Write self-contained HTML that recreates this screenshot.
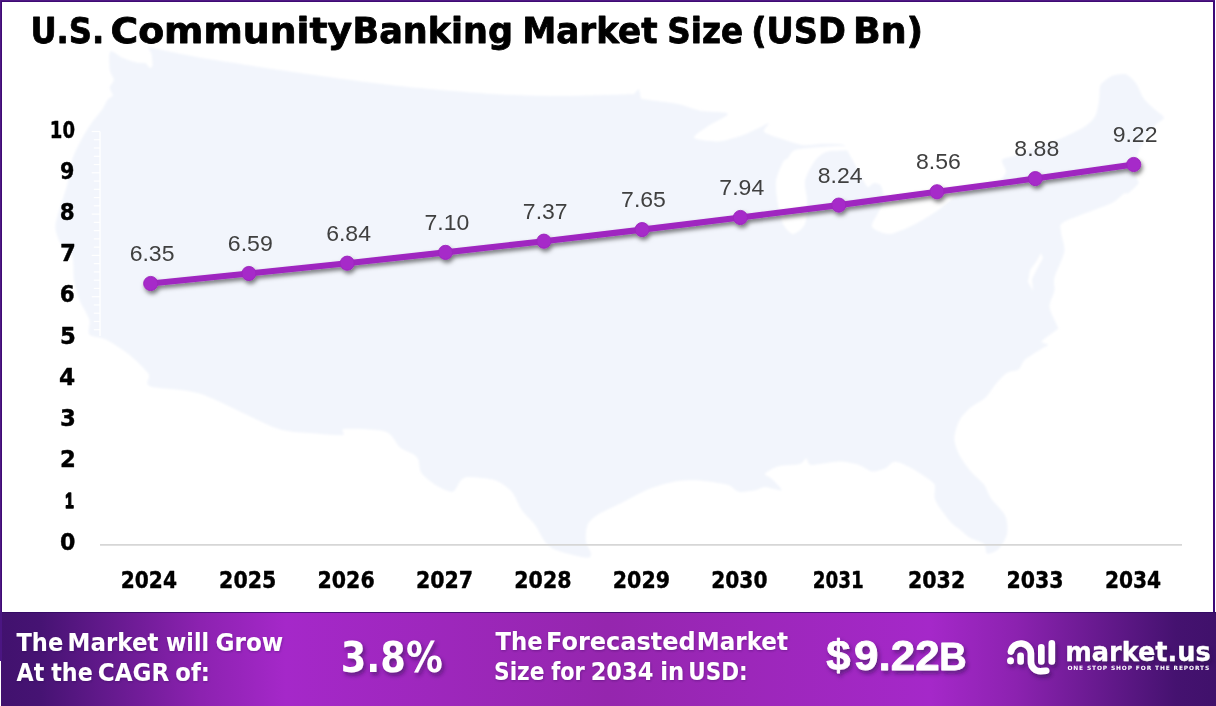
<!DOCTYPE html>
<html lang="en"><head><meta charset="utf-8"><title>U.S. Community Banking Market Size (USD Bn)</title>
<style>
html,body{margin:0;padding:0;background:#fff;}
body{width:1216px;height:706px;overflow:hidden;position:relative;}
svg{display:block;position:absolute;left:0;top:0;}
text{white-space:pre;}
</style></head><body>
<svg width="1216" height="706" viewBox="0 0 1216 706">
<defs>
<linearGradient id="fg" x1="0" y1="0" x2="1" y2="0">
<stop offset="0" stop-color="#41126e"/>
<stop offset="0.033" stop-color="#461373"/>
<stop offset="0.1645" stop-color="#8c22b0"/>
<stop offset="0.235" stop-color="#a528c9"/>
<stop offset="0.5" stop-color="#9526ae"/>
<stop offset="0.765" stop-color="#a528c9"/>
<stop offset="0.8355" stop-color="#8c22b0"/>
<stop offset="0.967" stop-color="#451270"/>
<stop offset="1" stop-color="#40116b"/>
</linearGradient>
<filter id="ls" x="-5%" y="-30%" width="110%" height="180%">
<feDropShadow dx="1.5" dy="3" stdDeviation="2.2" flood-color="#000" flood-opacity="0.5"/>
</filter>
<filter id="ts" x="-10%" y="-30%" width="130%" height="180%">
<feDropShadow dx="2" dy="3" stdDeviation="2.2" flood-color="#2a0a4a" flood-opacity="0.55"/>
</filter>
<filter id="ts2" x="-10%" y="-30%" width="130%" height="180%">
<feDropShadow dx="0.5" dy="1" stdDeviation="0.8" flood-color="#2a0a4a" flood-opacity="0.35"/>
</filter>
<filter id="mb" x="-2%" y="-2%" width="104%" height="104%"><feGaussianBlur stdDeviation="1"/></filter>
</defs>
<rect x="0" y="0" width="1216" height="706" fill="#fff"/>

<g filter="url(#mb)"><path d="M110.3,51.4C112.0,49.8 119.1,56.4 122.7,57.9C126.3,59.4 134.5,62.1 137.6,62.8C140.7,63.5 144.0,62.6 145.6,63.3C147.2,64.0 148.6,67.5 149.5,67.8C150.4,68.1 152.2,67.7 152.5,65.8C152.8,63.9 152.0,56.4 151.5,53.9C151.0,51.4 147.4,48.0 148.5,47.4C149.6,46.8 151.2,47.8 159.4,49.4C167.6,51.0 191.3,56.2 210.0,59.3C228.7,62.4 274.8,69.3 300.0,72.9C325.2,76.5 372.7,83.1 399.0,86.0C425.3,88.9 475.1,93.0 497.0,94.3C518.9,95.6 545.4,96.0 563.0,96.0C580.6,96.0 619.5,94.6 629.0,94.3C638.5,94.0 632.7,94.7 634.0,94.0C635.3,93.3 637.9,88.8 638.8,89.3C639.7,89.8 640.3,96.7 641.0,98.0C641.7,99.3 638.8,98.4 643.8,99.2C648.7,100.0 670.5,102.5 678.0,104.0C685.5,105.5 693.4,109.4 700.0,110.7C706.6,112.0 726.7,111.7 727.8,113.7C728.9,115.7 713.0,122.5 708.5,125.7C704.0,128.9 692.7,135.7 694.0,137.8C695.3,139.9 711.6,141.7 718.0,141.4C724.4,141.1 736.5,137.2 742.0,135.4C747.5,133.6 755.4,129.6 759.0,128.0C762.6,126.4 768.0,122.8 768.7,123.3C769.4,123.8 762.6,129.8 763.9,131.7C765.2,133.6 773.2,136.0 778.3,137.8C783.4,139.6 796.3,144.2 802.4,145.0C808.5,145.8 818.5,143.8 824.0,143.8C829.5,143.8 840.1,143.9 843.3,145.0C846.5,146.1 846.0,148.7 848.0,152.0C850.0,155.3 856.0,166.3 858.0,170.0C860.0,173.7 861.7,177.7 863.0,180.0C864.3,182.3 866.5,186.6 868.0,187.0C869.5,187.4 872.3,183.1 874.0,183.0C875.7,182.9 879.7,183.7 881.0,186.0C882.3,188.3 884.4,196.4 884.0,200.0C883.6,203.6 879.6,209.4 878.0,213.0C876.4,216.6 870.5,224.2 872.0,227.0C873.5,229.8 884.0,234.3 889.5,234.0C895.0,233.7 907.0,228.1 913.3,225.0C919.6,221.9 931.7,214.6 937.0,211.0C942.3,207.4 950.3,200.1 953.0,198.0C955.7,195.9 954.1,196.5 957.0,195.0C959.9,193.5 969.5,188.9 975.0,187.0C980.5,185.1 993.9,183.0 998.0,181.0C1002.1,179.0 1005.5,174.8 1006.0,172.0C1006.5,169.2 1000.9,162.2 1002.0,160.0C1003.1,157.8 1008.9,157.8 1014.5,155.7C1020.1,153.6 1037.9,146.8 1044.2,144.4C1050.5,142.0 1056.6,140.4 1062.0,138.0C1067.4,135.6 1080.6,129.4 1085.0,126.5C1089.4,123.6 1093.3,119.7 1095.2,116.3C1097.1,112.9 1098.3,105.1 1099.0,101.0C1099.7,96.9 1099.3,88.6 1100.3,85.7C1101.3,82.8 1105.0,80.7 1106.7,79.3C1108.4,77.9 1110.5,76.2 1113.0,75.5C1115.5,74.8 1122.7,73.2 1125.8,74.2C1128.9,75.2 1133.6,80.0 1136.0,83.2C1138.4,86.4 1141.3,95.1 1143.7,98.5C1146.1,101.9 1151.2,106.2 1153.9,108.7C1156.6,111.2 1163.7,115.6 1164.0,117.6C1164.3,119.6 1158.5,121.7 1156.4,124.0C1154.3,126.3 1150.4,131.3 1148.0,135.0C1145.6,138.7 1140.5,147.1 1138.6,152.0C1136.7,156.9 1133.5,167.9 1133.5,172.0C1133.5,176.1 1139.3,179.9 1138.6,182.7C1137.9,185.5 1130.4,191.4 1128.4,192.9C1126.4,194.4 1125.9,192.4 1123.4,193.9C1120.9,195.4 1117.9,200.1 1110.0,203.8C1102.1,207.5 1070.8,218.1 1064.3,221.8C1057.8,225.5 1061.0,227.8 1061.0,231.7C1061.0,235.6 1065.2,245.3 1064.3,251.4C1063.4,257.5 1055.7,272.4 1054.4,277.7C1053.1,283.0 1055.1,286.9 1054.4,290.8C1053.7,294.7 1049.1,302.5 1049.5,307.3C1049.9,312.1 1056.8,324.0 1057.7,327.0C1058.6,330.0 1058.5,328.1 1056.3,330.0C1054.1,331.9 1042.6,339.5 1041.5,341.5C1040.4,343.5 1048.3,343.7 1048.1,344.8C1047.9,345.9 1043.0,347.7 1039.9,349.7C1036.8,351.7 1027.9,357.0 1025.0,359.6C1022.1,362.2 1020.9,367.7 1018.5,369.5C1016.1,371.3 1010.1,370.8 1007.0,372.8C1003.9,374.8 998.4,381.0 995.5,384.3C992.6,387.6 988.9,394.3 985.6,397.4C982.3,400.5 974.3,404.2 970.8,407.3C967.3,410.4 961.5,416.3 959.3,420.5C957.1,424.7 954.3,434.0 954.3,438.6C954.3,443.2 957.1,450.6 959.3,455.0C961.5,459.4 967.5,467.5 970.8,471.4C974.1,475.3 981.4,481.1 984.0,484.6C986.6,488.1 987.7,493.6 990.5,497.8C993.3,502.0 1003.1,511.1 1005.3,515.9C1007.5,520.7 1007.9,529.6 1007.0,534.0C1006.1,538.4 1001.4,546.2 998.8,548.8C996.2,551.4 989.2,554.4 987.2,553.7C985.2,553.0 986.4,546.0 984.0,543.8C981.6,541.6 972.4,539.2 969.1,537.2C965.8,535.2 961.7,531.0 959.3,529.0C956.9,527.0 953.6,525.3 951.0,522.4C948.4,519.5 941.7,510.9 939.5,507.6C937.3,504.3 935.3,500.9 934.6,497.8C933.9,494.7 935.9,487.5 934.6,484.6C933.3,481.7 927.8,478.6 924.7,476.4C921.6,474.2 915.5,470.2 911.6,468.2C907.7,466.2 898.6,461.6 895.1,461.6C891.6,461.6 888.4,466.9 885.3,468.2C882.2,469.5 875.6,471.8 872.1,471.4C868.6,471.0 863.3,466.2 858.9,464.9C854.5,463.6 845.5,461.6 839.2,461.6C832.9,461.6 815.7,465.3 811.3,464.9C806.9,464.5 807.8,458.4 806.3,458.3C804.8,458.2 803.7,462.8 800.0,463.9C796.3,465.0 783.0,464.9 778.3,466.2C773.6,467.5 765.9,472.1 765.0,473.8C764.1,475.5 769.5,476.5 771.7,478.7C773.9,480.9 782.5,489.1 781.6,490.2C780.7,491.3 768.5,487.0 765.0,487.0C761.5,487.0 758.8,489.6 755.3,490.2C751.8,490.8 742.3,492.5 738.8,491.8C735.3,491.1 732.5,486.6 729.0,485.3C725.5,484.0 716.9,482.7 712.5,482.0C708.1,481.3 700.8,480.4 696.0,480.3C691.2,480.2 682.4,480.2 676.3,481.3C670.2,482.4 657.0,485.9 650.0,488.6C643.0,491.3 630.7,498.2 623.7,501.7C616.7,505.2 602.2,511.8 597.4,514.9C592.6,518.0 589.0,521.2 587.5,524.7C586.0,528.2 585.5,537.5 585.9,541.2C586.3,544.9 590.4,550.5 590.8,552.7C591.2,554.9 590.8,557.2 589.0,557.6C587.2,558.0 582.2,557.1 577.6,556.0C573.0,554.9 559.0,551.4 554.6,549.4C550.2,547.4 547.3,544.5 544.7,541.2C542.1,537.9 538.0,528.9 534.9,524.7C531.8,520.5 524.8,514.4 521.7,510.0C518.6,505.6 515.3,495.8 511.8,491.8C508.3,487.8 501.1,482.3 495.4,480.3C489.7,478.3 473.6,477.0 469.0,477.0C464.4,477.0 463.1,478.3 460.9,480.3C458.7,482.3 455.9,491.1 452.6,491.8C449.3,492.5 440.1,487.8 436.0,485.3C431.9,482.8 423.9,476.4 421.5,473.0C419.1,469.6 419.4,462.0 418.3,459.5C417.2,457.0 415.4,455.6 413.0,454.0C410.6,452.4 403.7,450.4 400.0,447.4C396.3,444.4 392.8,434.1 385.4,431.6C378.0,429.1 350.0,428.5 344.3,428.9C338.6,429.3 346.8,434.3 342.6,434.9C338.4,435.5 321.8,434.1 313.0,433.2C304.2,432.3 291.7,433.5 276.8,428.3C261.9,423.1 218.1,399.6 201.2,394.0C184.3,388.4 157.2,388.9 150.2,386.2C143.2,383.5 151.5,378.3 148.6,374.0C145.7,369.7 134.5,358.9 128.8,354.3C123.1,349.7 111.1,342.1 105.8,339.5C100.5,336.9 91.5,337.1 89.3,334.5C87.1,331.9 90.6,324.3 89.3,319.7C88.0,315.1 81.5,305.3 79.5,300.0C77.5,294.7 75.0,285.8 74.0,280.0C73.0,274.2 74.1,261.4 72.3,256.5C70.5,251.6 62.7,246.9 60.4,243.0C58.1,239.1 55.5,231.7 55.3,227.6C55.1,223.5 57.1,217.7 58.7,212.0C60.3,206.3 65.4,192.0 67.2,185.0C69.0,178.0 70.5,165.4 72.3,159.5C74.1,153.6 78.3,145.6 80.8,140.8C83.3,136.0 88.2,127.9 91.0,123.8C93.8,119.7 99.6,113.2 101.9,110.0C104.2,106.8 106.4,101.4 107.9,99.5C109.4,97.6 112.5,97.2 112.8,95.6C113.1,94.0 109.7,89.7 109.8,87.6C109.9,85.5 113.8,82.1 113.8,79.7C113.8,77.3 110.3,73.6 109.8,69.8C109.3,66.0 108.6,53.0 110.3,51.4Z" fill="#f2f5fc"/>
<path d="M795.0,150.0C790.7,151.5 789.6,156.4 788.0,158.0C786.4,159.6 784.6,158.9 783.0,162.0C781.4,165.1 776.7,175.3 776.0,181.0C775.3,186.7 777.1,199.3 778.0,205.0C778.9,210.7 781.0,220.1 783.0,224.0C785.0,227.9 790.1,234.0 793.0,234.0C795.9,234.0 803.1,228.5 805.0,224.0C806.9,219.5 807.0,205.7 807.0,200.0C807.0,194.3 804.1,186.1 805.0,181.0C805.9,175.9 811.2,165.9 814.0,162.0C816.8,158.1 821.5,153.6 826.0,152.0C830.5,150.4 845.7,150.8 848.0,150.0C850.3,149.2 846.7,146.4 843.0,146.0C839.3,145.6 826.4,146.5 820.0,147.0C813.6,147.5 799.3,148.5 795.0,150.0Z" fill="#fff"/>
<path d="M1041,253 L1036,262 L1030,270 L1028,282 L1033,291 L1032,279 L1037,269 L1043,258Z" fill="#fff"/></g>
<g><line x1="100" y1="131.5" x2="100" y2="336.0" stroke="#fff" stroke-width="1.4"/><line x1="91.7" y1="131.50" x2="100" y2="131.50" stroke="#fff" stroke-width="1.2"/><line x1="93.8" y1="139.76" x2="100" y2="139.76" stroke="#fff" stroke-width="1.2"/><line x1="93.8" y1="148.02" x2="100" y2="148.02" stroke="#fff" stroke-width="1.2"/><line x1="93.8" y1="156.28" x2="100" y2="156.28" stroke="#fff" stroke-width="1.2"/><line x1="93.8" y1="164.54" x2="100" y2="164.54" stroke="#fff" stroke-width="1.2"/><line x1="91.7" y1="172.80" x2="100" y2="172.80" stroke="#fff" stroke-width="1.2"/><line x1="93.8" y1="181.06" x2="100" y2="181.06" stroke="#fff" stroke-width="1.2"/><line x1="93.8" y1="189.32" x2="100" y2="189.32" stroke="#fff" stroke-width="1.2"/><line x1="93.8" y1="197.58" x2="100" y2="197.58" stroke="#fff" stroke-width="1.2"/><line x1="93.8" y1="205.84" x2="100" y2="205.84" stroke="#fff" stroke-width="1.2"/><line x1="91.7" y1="214.10" x2="100" y2="214.10" stroke="#fff" stroke-width="1.2"/><line x1="93.8" y1="222.36" x2="100" y2="222.36" stroke="#fff" stroke-width="1.2"/><line x1="93.8" y1="230.62" x2="100" y2="230.62" stroke="#fff" stroke-width="1.2"/><line x1="93.8" y1="238.88" x2="100" y2="238.88" stroke="#fff" stroke-width="1.2"/><line x1="93.8" y1="247.14" x2="100" y2="247.14" stroke="#fff" stroke-width="1.2"/><line x1="91.7" y1="255.40" x2="100" y2="255.40" stroke="#fff" stroke-width="1.2"/><line x1="93.8" y1="263.66" x2="100" y2="263.66" stroke="#fff" stroke-width="1.2"/><line x1="93.8" y1="271.92" x2="100" y2="271.92" stroke="#fff" stroke-width="1.2"/><line x1="93.8" y1="280.18" x2="100" y2="280.18" stroke="#fff" stroke-width="1.2"/><line x1="93.8" y1="288.44" x2="100" y2="288.44" stroke="#fff" stroke-width="1.2"/><line x1="91.7" y1="296.70" x2="100" y2="296.70" stroke="#fff" stroke-width="1.2"/><line x1="93.8" y1="304.96" x2="100" y2="304.96" stroke="#fff" stroke-width="1.2"/><line x1="93.8" y1="313.22" x2="100" y2="313.22" stroke="#fff" stroke-width="1.2"/><line x1="93.8" y1="321.48" x2="100" y2="321.48" stroke="#fff" stroke-width="1.2"/><line x1="93.8" y1="329.74" x2="100" y2="329.74" stroke="#fff" stroke-width="1.2"/></g>
<line x1="100" y1="544.9" x2="1182" y2="544.9" stroke="#d6d6d6" stroke-width="1.6"/>
<rect x="0" y="0" width="1215" height="1" fill="#4f1884"/><rect x="1" y="1" width="1214" height="1" fill="#3e0a74"/>
<rect x="0" y="0" width="1" height="661" fill="#4f1884"/><rect x="1" y="1" width="1" height="660" fill="#3e0a74"/>
<rect x="1213" y="1" width="2" height="612" fill="#3d0a78"/>
<text><tspan x="30.4" y="42.5" font-family='"DejaVu Sans","Liberation Sans",sans-serif' font-size="35.8" font-weight="bold" fill="#000" textLength="73.95" lengthAdjust="spacingAndGlyphs" stroke="#000" stroke-width="0.8" stroke-linejoin="round">U.S.</tspan> <tspan x="110.45" y="42.5" font-family='"DejaVu Sans","Liberation Sans",sans-serif' font-size="35.8" font-weight="bold" fill="#000" textLength="241.72" lengthAdjust="spacingAndGlyphs" stroke="#000" stroke-width="0.8" stroke-linejoin="round">Community</tspan> <tspan x="352.57" y="42.5" font-family='"DejaVu Sans","Liberation Sans",sans-serif' font-size="35.8" font-weight="bold" fill="#000" textLength="160.51" lengthAdjust="spacingAndGlyphs" stroke="#000" stroke-width="0.8" stroke-linejoin="round">Banking</tspan> <tspan x="522.13" y="42.5" font-family='"DejaVu Sans","Liberation Sans",sans-serif' font-size="35.8" font-weight="bold" fill="#000" textLength="135.51" lengthAdjust="spacingAndGlyphs" stroke="#000" stroke-width="0.8" stroke-linejoin="round">Market</tspan> <tspan x="667.18" y="42.5" font-family='"DejaVu Sans","Liberation Sans",sans-serif' font-size="35.8" font-weight="bold" fill="#000" textLength="75.89" lengthAdjust="spacingAndGlyphs" stroke="#000" stroke-width="0.8" stroke-linejoin="round">Size</tspan> <tspan x="751.19" y="42.5" font-family='"DejaVu Sans","Liberation Sans",sans-serif' font-size="35.8" font-weight="bold" fill="#000" textLength="94.63" lengthAdjust="spacingAndGlyphs" stroke="#000" stroke-width="0.8" stroke-linejoin="round">(USD</tspan> <tspan x="852.95" y="42.5" font-family='"DejaVu Sans","Liberation Sans",sans-serif' font-size="35.8" font-weight="bold" fill="#000" textLength="70.24" lengthAdjust="spacingAndGlyphs" stroke="#000" stroke-width="0.8" stroke-linejoin="round">Bn)</tspan></text>
<text x="49.81" y="137.5" font-family='"DejaVu Sans","Liberation Sans",sans-serif' font-size="22.8" font-weight="bold" fill="#000" text-anchor="start" textLength="25.17" lengthAdjust="spacingAndGlyphs" stroke="#000" stroke-width="0.4" stroke-linejoin="round">10</text>
<text x="60.09" y="178.7" font-family='"DejaVu Sans","Liberation Sans",sans-serif' font-size="22.8" font-weight="bold" fill="#000" text-anchor="start" textLength="14.4" lengthAdjust="spacingAndGlyphs" stroke="#000" stroke-width="0.4" stroke-linejoin="round">9</text>
<text x="59.86" y="219.9" font-family='"DejaVu Sans","Liberation Sans",sans-serif' font-size="22.8" font-weight="bold" fill="#000" text-anchor="start" textLength="14.97" lengthAdjust="spacingAndGlyphs" stroke="#000" stroke-width="0.4" stroke-linejoin="round">8</text>
<text x="60.0" y="261.1" font-family='"DejaVu Sans","Liberation Sans",sans-serif' font-size="22.8" font-weight="bold" fill="#000" text-anchor="start" textLength="15.88" lengthAdjust="spacingAndGlyphs" stroke="#000" stroke-width="0.4" stroke-linejoin="round">7</text>
<text x="59.86" y="302.3" font-family='"DejaVu Sans","Liberation Sans",sans-serif' font-size="22.8" font-weight="bold" fill="#000" text-anchor="start" textLength="14.97" lengthAdjust="spacingAndGlyphs" stroke="#000" stroke-width="0.4" stroke-linejoin="round">6</text>
<text x="60.0" y="343.5" font-family='"DejaVu Sans","Liberation Sans",sans-serif' font-size="22.8" font-weight="bold" fill="#000" text-anchor="start" textLength="15.88" lengthAdjust="spacingAndGlyphs" stroke="#000" stroke-width="0.4" stroke-linejoin="round">5</text>
<text x="58.98" y="384.7" font-family='"DejaVu Sans","Liberation Sans",sans-serif' font-size="22.8" font-weight="bold" fill="#000" text-anchor="start" textLength="16.22" lengthAdjust="spacingAndGlyphs" stroke="#000" stroke-width="0.4" stroke-linejoin="round">4</text>
<text x="60.0" y="425.9" font-family='"DejaVu Sans","Liberation Sans",sans-serif' font-size="22.8" font-weight="bold" fill="#000" text-anchor="start" textLength="15.88" lengthAdjust="spacingAndGlyphs" stroke="#000" stroke-width="0.4" stroke-linejoin="round">3</text>
<text x="60.0" y="467.1" font-family='"DejaVu Sans","Liberation Sans",sans-serif' font-size="22.8" font-weight="bold" fill="#000" text-anchor="start" textLength="15.88" lengthAdjust="spacingAndGlyphs" stroke="#000" stroke-width="0.4" stroke-linejoin="round">2</text>
<text x="65.3" y="507.7" font-family='"Liberation Sans",sans-serif' font-size="21.5" font-weight="bold" fill="#000" text-anchor="start" textLength="8.38" lengthAdjust="spacingAndGlyphs" stroke="#000" stroke-width="1.6" stroke-linejoin="round">1</text>
<text x="60.03" y="549.5" font-family='"DejaVu Sans","Liberation Sans",sans-serif' font-size="22.8" font-weight="bold" fill="#000" text-anchor="start" textLength="15.42" lengthAdjust="spacingAndGlyphs" stroke="#000" stroke-width="0.4" stroke-linejoin="round">0</text>
<text x="120.71" y="587.8" font-family='"DejaVu Sans","Liberation Sans",sans-serif' font-size="22.8" font-weight="bold" fill="#000" text-anchor="start" textLength="56.29" lengthAdjust="spacingAndGlyphs" stroke="#000" stroke-width="0.4" stroke-linejoin="round">2024</text>
<text x="219.1" y="587.8" font-family='"DejaVu Sans","Liberation Sans",sans-serif' font-size="22.8" font-weight="bold" fill="#000" text-anchor="start" textLength="57.21" lengthAdjust="spacingAndGlyphs" stroke="#000" stroke-width="0.4" stroke-linejoin="round">2025</text>
<text x="317.5" y="587.8" font-family='"DejaVu Sans","Liberation Sans",sans-serif' font-size="22.8" font-weight="bold" fill="#000" text-anchor="start" textLength="57.21" lengthAdjust="spacingAndGlyphs" stroke="#000" stroke-width="0.4" stroke-linejoin="round">2026</text>
<text x="415.9" y="587.8" font-family='"DejaVu Sans","Liberation Sans",sans-serif' font-size="22.8" font-weight="bold" fill="#000" text-anchor="start" textLength="57.21" lengthAdjust="spacingAndGlyphs" stroke="#000" stroke-width="0.4" stroke-linejoin="round">2027</text>
<text x="514.3" y="587.8" font-family='"DejaVu Sans","Liberation Sans",sans-serif' font-size="22.8" font-weight="bold" fill="#000" text-anchor="start" textLength="57.21" lengthAdjust="spacingAndGlyphs" stroke="#000" stroke-width="0.4" stroke-linejoin="round">2028</text>
<text x="612.8" y="587.8" font-family='"DejaVu Sans","Liberation Sans",sans-serif' font-size="22.8" font-weight="bold" fill="#000" text-anchor="start" textLength="57.21" lengthAdjust="spacingAndGlyphs" stroke="#000" stroke-width="0.4" stroke-linejoin="round">2029</text>
<text x="711.21" y="587.8" font-family='"DejaVu Sans","Liberation Sans",sans-serif' font-size="22.8" font-weight="bold" fill="#000" text-anchor="start" textLength="56.29" lengthAdjust="spacingAndGlyphs" stroke="#000" stroke-width="0.4" stroke-linejoin="round">2030</text>
<text x="812.7" y="587.8" font-family='"DejaVu Sans","Liberation Sans",sans-serif' font-size="22.8" font-weight="bold" fill="#000" text-anchor="start" textLength="50.97" lengthAdjust="spacingAndGlyphs" stroke="#000" stroke-width="0.4" stroke-linejoin="round">2031</text>
<text x="908.0" y="587.8" font-family='"DejaVu Sans","Liberation Sans",sans-serif' font-size="22.8" font-weight="bold" fill="#000" text-anchor="start" textLength="57.21" lengthAdjust="spacingAndGlyphs" stroke="#000" stroke-width="0.4" stroke-linejoin="round">2032</text>
<text x="1006.4" y="587.8" font-family='"DejaVu Sans","Liberation Sans",sans-serif' font-size="22.8" font-weight="bold" fill="#000" text-anchor="start" textLength="57.21" lengthAdjust="spacingAndGlyphs" stroke="#000" stroke-width="0.4" stroke-linejoin="round">2033</text>
<text x="1104.91" y="587.8" font-family='"DejaVu Sans","Liberation Sans",sans-serif' font-size="22.8" font-weight="bold" fill="#000" text-anchor="start" textLength="56.29" lengthAdjust="spacingAndGlyphs" stroke="#000" stroke-width="0.4" stroke-linejoin="round">2034</text>
<g filter="url(#ls)"><polyline points="150.7,283.5 248.9,273.5 347.2,263.2 445.5,252.4 543.9,241.2 642.1,229.6 740.4,217.5 838.8,205.1 937.0,191.8 1035.3,178.6 1133.7,164.5" fill="none" stroke="#9f27c0" stroke-width="6.1" stroke-linejoin="round" stroke-linecap="round"/><circle cx="150.7" cy="283.5" r="7.1" fill="#a629c9" stroke="#9c26bc" stroke-width="0.9"/><circle cx="248.9" cy="273.5" r="7.1" fill="#a629c9" stroke="#9c26bc" stroke-width="0.9"/><circle cx="347.2" cy="263.2" r="7.1" fill="#a629c9" stroke="#9c26bc" stroke-width="0.9"/><circle cx="445.5" cy="252.4" r="7.1" fill="#a629c9" stroke="#9c26bc" stroke-width="0.9"/><circle cx="543.9" cy="241.2" r="7.1" fill="#a629c9" stroke="#9c26bc" stroke-width="0.9"/><circle cx="642.1" cy="229.6" r="7.1" fill="#a629c9" stroke="#9c26bc" stroke-width="0.9"/><circle cx="740.4" cy="217.5" r="7.1" fill="#a629c9" stroke="#9c26bc" stroke-width="0.9"/><circle cx="838.8" cy="205.1" r="7.1" fill="#a629c9" stroke="#9c26bc" stroke-width="0.9"/><circle cx="937.0" cy="191.8" r="7.1" fill="#a629c9" stroke="#9c26bc" stroke-width="0.9"/><circle cx="1035.3" cy="178.6" r="7.1" fill="#a629c9" stroke="#9c26bc" stroke-width="0.9"/><circle cx="1133.7" cy="164.5" r="7.1" fill="#a629c9" stroke="#9c26bc" stroke-width="0.9"/></g>
<text x="129.68" y="260.9" font-family='"Liberation Sans",sans-serif' font-size="22.6" font-weight="normal" fill="#404040" text-anchor="start" textLength="44.82" lengthAdjust="spacingAndGlyphs">6.35</text>
<text x="227.88" y="250.9" font-family='"Liberation Sans",sans-serif' font-size="22.6" font-weight="normal" fill="#404040" text-anchor="start" textLength="44.93" lengthAdjust="spacingAndGlyphs">6.59</text>
<text x="326.18" y="240.6" font-family='"Liberation Sans",sans-serif' font-size="22.6" font-weight="normal" fill="#404040" text-anchor="start" textLength="44.82" lengthAdjust="spacingAndGlyphs">6.84</text>
<text x="424.48" y="229.8" font-family='"Liberation Sans",sans-serif' font-size="22.6" font-weight="normal" fill="#404040" text-anchor="start" textLength="44.82" lengthAdjust="spacingAndGlyphs">7.10</text>
<text x="522.88" y="218.6" font-family='"Liberation Sans",sans-serif' font-size="22.6" font-weight="normal" fill="#404040" text-anchor="start" textLength="44.72" lengthAdjust="spacingAndGlyphs">7.37</text>
<text x="621.08" y="207.0" font-family='"Liberation Sans",sans-serif' font-size="22.6" font-weight="normal" fill="#404040" text-anchor="start" textLength="44.82" lengthAdjust="spacingAndGlyphs">7.65</text>
<text x="719.38" y="194.9" font-family='"Liberation Sans",sans-serif' font-size="22.6" font-weight="normal" fill="#404040" text-anchor="start" textLength="44.82" lengthAdjust="spacingAndGlyphs">7.94</text>
<text x="817.78" y="182.5" font-family='"Liberation Sans",sans-serif' font-size="22.6" font-weight="normal" fill="#404040" text-anchor="start" textLength="44.72" lengthAdjust="spacingAndGlyphs">8.24</text>
<text x="915.98" y="169.2" font-family='"Liberation Sans",sans-serif' font-size="22.6" font-weight="normal" fill="#404040" text-anchor="start" textLength="44.82" lengthAdjust="spacingAndGlyphs">8.56</text>
<text x="1014.38" y="156.0" font-family='"Liberation Sans",sans-serif' font-size="22.6" font-weight="normal" fill="#404040" text-anchor="start" textLength="44.82" lengthAdjust="spacingAndGlyphs">8.88</text>
<text x="1112.68" y="141.9" font-family='"Liberation Sans",sans-serif' font-size="22.6" font-weight="normal" fill="#404040" text-anchor="start" textLength="44.82" lengthAdjust="spacingAndGlyphs">9.22</text>
<rect x="0" y="612" width="1216" height="94" fill="url(#fg)"/>
<rect x="2" y="612" width="1214" height="1" fill="#2f0a62" opacity="0.8"/>
<rect x="0" y="612" width="2" height="49" fill="#4b1682"/>
<rect x="0" y="661" width="1" height="45" fill="#fff"/>
<g filter="url(#ts2)">
<text><tspan x="16.5" y="650.8" font-family='"DejaVu Sans","Liberation Sans",sans-serif' font-size="24.4" font-weight="bold" fill="#fff" textLength="46.68" lengthAdjust="spacingAndGlyphs">The</tspan> <tspan x="67.62" y="650.8" font-family='"DejaVu Sans","Liberation Sans",sans-serif' font-size="24.4" font-weight="bold" fill="#fff" textLength="90.88" lengthAdjust="spacingAndGlyphs">Market</tspan> <tspan x="166.1" y="650.8" font-family='"DejaVu Sans","Liberation Sans",sans-serif' font-size="24.4" font-weight="bold" fill="#fff" textLength="42.86" lengthAdjust="spacingAndGlyphs">will</tspan> <tspan x="215.55" y="650.8" font-family='"DejaVu Sans","Liberation Sans",sans-serif' font-size="24.4" font-weight="bold" fill="#fff" textLength="67.72" lengthAdjust="spacingAndGlyphs">Grow</tspan></text>
<text><tspan x="16.5" y="680.7" font-family='"DejaVu Sans","Liberation Sans",sans-serif' font-size="24.4" font-weight="bold" fill="#fff" textLength="27.75" lengthAdjust="spacingAndGlyphs">At</tspan> <tspan x="51.25" y="680.7" font-family='"DejaVu Sans","Liberation Sans",sans-serif' font-size="24.4" font-weight="bold" fill="#fff" textLength="41.43" lengthAdjust="spacingAndGlyphs">the</tspan> <tspan x="97.8" y="680.7" font-family='"DejaVu Sans","Liberation Sans",sans-serif' font-size="24.4" font-weight="bold" fill="#fff" textLength="71.49" lengthAdjust="spacingAndGlyphs">CAGR</tspan> <tspan x="175.32" y="680.7" font-family='"DejaVu Sans","Liberation Sans",sans-serif' font-size="24.4" font-weight="bold" fill="#fff" textLength="34.59" lengthAdjust="spacingAndGlyphs">of:</tspan></text>
<text><tspan x="495.5" y="650" font-family='"DejaVu Sans","Liberation Sans",sans-serif' font-size="24.4" font-weight="bold" fill="#fff" textLength="47.19" lengthAdjust="spacingAndGlyphs">The</tspan> <tspan x="546.03" y="650" font-family='"DejaVu Sans","Liberation Sans",sans-serif' font-size="24.4" font-weight="bold" fill="#fff" textLength="149.8" lengthAdjust="spacingAndGlyphs">Forecasted</tspan> <tspan x="696.86" y="650" font-family='"DejaVu Sans","Liberation Sans",sans-serif' font-size="24.4" font-weight="bold" fill="#fff" textLength="91.14" lengthAdjust="spacingAndGlyphs">Market</tspan></text>
<text><tspan x="494.02" y="679.8" font-family='"DejaVu Sans","Liberation Sans",sans-serif' font-size="24.4" font-weight="bold" fill="#fff" textLength="50.47" lengthAdjust="spacingAndGlyphs">Size</tspan> <tspan x="551.25" y="679.8" font-family='"DejaVu Sans","Liberation Sans",sans-serif' font-size="24.4" font-weight="bold" fill="#fff" textLength="33.6" lengthAdjust="spacingAndGlyphs">for</tspan> <tspan x="590.65" y="679.8" font-family='"DejaVu Sans","Liberation Sans",sans-serif' font-size="24.4" font-weight="bold" fill="#fff" textLength="62.67" lengthAdjust="spacingAndGlyphs">2034</tspan> <tspan x="660.14" y="679.8" font-family='"DejaVu Sans","Liberation Sans",sans-serif' font-size="24.4" font-weight="bold" fill="#fff" textLength="23.98" lengthAdjust="spacingAndGlyphs">in</tspan> <tspan x="688.24" y="679.8" font-family='"DejaVu Sans","Liberation Sans",sans-serif' font-size="24.4" font-weight="bold" fill="#fff" textLength="59.35" lengthAdjust="spacingAndGlyphs">USD:</tspan></text>
</g>
<g filter="url(#ts)">
<text x="340.81" y="671.8" font-family='"DejaVu Sans","Liberation Sans",sans-serif' font-size="42.5" font-weight="bold" fill="#fff" text-anchor="start" textLength="101.91" lengthAdjust="spacingAndGlyphs">3.8%</text>
<text><tspan x="826.2" y="669.8" font-family='"Liberation Sans",sans-serif' font-size="43" font-weight="bold" fill="#fff" textLength="24.22" lengthAdjust="spacingAndGlyphs" stroke="#fff" stroke-width="0.8" stroke-linejoin="round">$</tspan><tspan x="854.08" y="669.8" font-family='"Liberation Sans",sans-serif' font-size="43" font-weight="bold" fill="#fff" textLength="85.67" lengthAdjust="spacingAndGlyphs" stroke="#fff" stroke-width="0.8" stroke-linejoin="round">9.22</tspan><tspan x="939.32" y="669.8" font-family='"Liberation Sans",sans-serif' font-size="38.4" font-weight="bold" fill="#fff" textLength="27.39" lengthAdjust="spacingAndGlyphs" stroke="#fff" stroke-width="0.8" stroke-linejoin="round">B</tspan></text>
</g>
<g filter="url(#ts)"><circle cx="1010.5" cy="660.8" r="3.5" fill="#fff"/><path d="M1010.9,651.6 A10.1,10.1 0 0 1 1030.9,653.5 L1030.9,661.7 A9.6,9.6 0 0 0 1040.5,671.3 L1046.2,670.7" fill="none" stroke="#fff" stroke-width="6.6" stroke-linecap="round"/><line x1="1020.6" y1="655.7" x2="1020.6" y2="661.4" stroke="#fff" stroke-width="6.6" stroke-linecap="round"/><line x1="1041.3" y1="647.3" x2="1041.3" y2="661.4" stroke="#fff" stroke-width="6.6" stroke-linecap="round"/><line x1="1051.8" y1="643.4" x2="1051.8" y2="661.4" stroke="#fff" stroke-width="6.6" stroke-linecap="round"/>
<text x="1065.28" y="660.5" font-family='"DejaVu Sans","Liberation Sans",sans-serif' font-size="26.6" font-weight="bold" fill="#fff" text-anchor="start" textLength="145.33" lengthAdjust="spacingAndGlyphs" stroke="#fff" stroke-width="0.3" stroke-linejoin="round">market.us</text>
</g>
<text x="1067.4" y="669.6" font-family='"DejaVu Sans","Liberation Sans",sans-serif' font-size="5.9" font-weight="bold" fill="#fff" text-anchor="start" textLength="141.8" lengthAdjust="spacing">ONE STOP SHOP FOR THE REPORTS</text>
</svg></body></html>
